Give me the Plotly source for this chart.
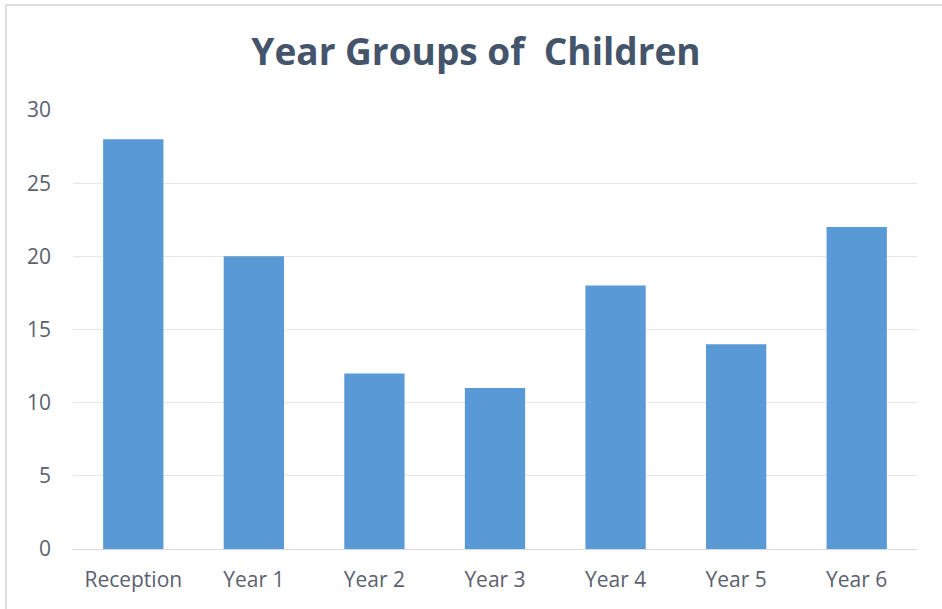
import plotly.graph_objects as go

categories = ["Reception", "Year 1", "Year 2", "Year 3", "Year 4", "Year 5", "Year 6"]
children = [28, 20, 12, 11, 18, 14, 22]
y_ticks = [0, 5, 10, 15, 20, 25, 30]

W, H = 942, 609
L, R, T, B = 73, 25, 110, 60
pw, ph = W - L - R, H - T - B

fig = go.Figure()
fig.add_trace(go.Bar(
    x=categories, y=children,
    marker=dict(color="#5899d6", line=dict(width=0)),
))

fig.update_layout(
    width=W, height=H,
    margin=dict(l=L, r=R, t=T, b=B),
    paper_bgcolor="white", plot_bgcolor="white",
    bargap=0.5,
    showlegend=False,
    font=dict(family="Open Sans", color="#5b6170"),
    title=dict(text="Year Groups of  Children", x=476 / W, xref="container", xanchor="center",
               y=1 - 52 / H, yanchor="middle",
               font=dict(family="Open Sans", size=37, color="#44546a", weight="bold")),
    xaxis=dict(showgrid=False, showline=True, linecolor="#d9d9d9", linewidth=1,
               ticks="", tickfont=dict(size=21, color="#5b6170"), ticklabelstandoff=12),
    yaxis=dict(range=[0, 30], tickvals=y_ticks, showgrid=True, gridcolor="#e6e6e6",
               gridwidth=1, zeroline=False, showline=False, ticks="",
               tickfont=dict(size=21, color="#5b6170"), ticklabelstandoff=21),
)

fig.add_shape(type="rect", xref="paper", yref="paper",
              x0=(6 - L) / pw, x1=(W + 5 - L) / pw,
              y0=-(B + 5) / ph, y1=1 + (T - 5) / ph,
              line=dict(color="#dcdee2", width=2), fillcolor="rgba(0,0,0,0)", layer="below")

fig.write_html("out.html", config={"displayModeBar": False},
               post_script="document.body.style.margin='0';")
